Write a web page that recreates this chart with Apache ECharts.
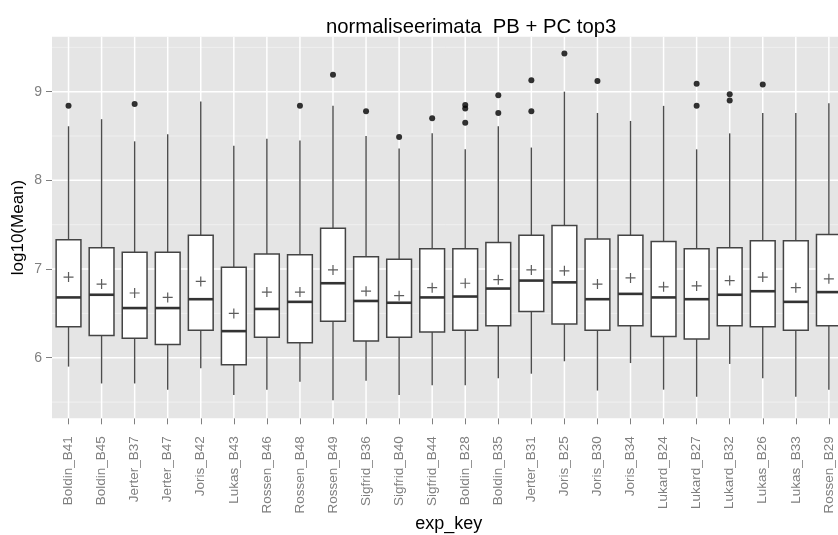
<!DOCTYPE html>
<html>
<head>
<meta charset="utf-8">
<script src="https://cdn.jsdelivr.net/npm/echarts@6/dist/echarts.min.js"></script>
<style>html,body{margin:0;padding:0;background:#fff;}#c{width:838px;height:535px;}</style>
</head>
<body>
<div id="c"></div>
<script>
const categories = ["Boldin_B41","Boldin_B45","Jerter_B37","Jerter_B47","Joris_B42","Lukas_B43","Rossen_B46","Rossen_B48","Rossen_B49","Sigfrid_B36","Sigfrid_B40","Sigfrid_B44","Boldin_B28","Boldin_B35","Jerter_B31","Joris_B25","Joris_B30","Joris_B34","Lukard_B24","Lukard_B27","Lukard_B32","Lukas_B26","Lukas_B33","Rossen_B29"];
const whiskerLow  = [5.90,5.71,5.71,5.64,5.88,5.58,5.64,5.73,5.52,5.74,5.58,5.69,5.69,5.77,5.82,5.96,5.63,5.94,5.64,5.56,5.93,5.77,5.56,5.64];
const q1          = [6.35,6.25,6.22,6.15,6.31,5.92,6.23,6.17,6.41,6.19,6.23,6.29,6.31,6.36,6.52,6.38,6.31,6.36,6.24,6.21,6.36,6.35,6.31,6.36];
const median      = [6.68,6.71,6.56,6.56,6.66,6.30,6.55,6.63,6.84,6.64,6.62,6.68,6.69,6.78,6.87,6.85,6.66,6.72,6.68,6.66,6.71,6.75,6.63,6.74];
const q3          = [7.33,7.24,7.19,7.19,7.38,7.02,7.17,7.16,7.46,7.14,7.11,7.23,7.23,7.30,7.38,7.49,7.34,7.38,7.31,7.23,7.24,7.32,7.32,7.39];
const whiskerHigh = [8.61,8.69,8.44,8.52,8.89,8.39,8.47,8.45,8.84,8.50,8.36,8.53,8.35,8.61,8.37,9.00,8.76,8.67,8.84,8.35,8.53,8.76,8.76,8.87];
const means       = [6.91,6.83,6.73,6.68,6.86,6.50,6.74,6.74,6.99,6.75,6.70,6.79,6.84,6.88,6.99,6.98,6.83,6.90,6.80,6.81,6.87,6.91,6.79,6.89];
const outliers = [
  ["Boldin_B41",8.84],["Jerter_B37",8.86],["Rossen_B48",8.84],["Rossen_B49",9.19],
  ["Sigfrid_B36",8.78],["Sigfrid_B40",8.49],["Sigfrid_B44",8.70],
  ["Boldin_B28",8.85],["Boldin_B28",8.81],["Boldin_B28",8.65],
  ["Boldin_B35",8.96],["Boldin_B35",8.76],["Jerter_B31",9.13],["Jerter_B31",8.78],
  ["Joris_B25",9.43],["Joris_B30",9.12],["Lukard_B27",9.09],["Lukard_B27",8.84],
  ["Lukard_B32",8.97],["Lukard_B32",8.90],["Lukas_B26",9.08]
];
const yTicks = [6,7,8,9];
const yMinorTicks = [5.5,6.5,7.5,8.5,9.5];
const yMin = 5.317, yMax = 9.62;

const FONT = '"Liberation Sans", Arial, sans-serif';
const chart = echarts.init(document.getElementById('c'));

const boxData = categories.map((c,i)=>[i, whiskerLow[i], q1[i], median[i], q3[i], whiskerHigh[i]]);
const meanData = categories.map((c,i)=>[i, means[i]]);
const outData = outliers.map(o=>[categories.indexOf(o[0]), o[1]]);
// horizontal grid: [dummy category index, value, isMajor]
const hGridData = yMinorTicks.map(v=>[0, v, 0]).concat(yTicks.map(v=>[0, v, 1]));
const vGridData = categories.map((c,i)=>[i, yMin]);

chart.setOption({
  animation:false,
  backgroundColor:'#ffffff',
  title:{
    text:'normaliseerimata  PB + PC top3',
    left:321, top:12,
    textStyle:{fontFamily:FONT, fontSize:20.3, fontWeight:'normal', color:'#000'}
  },
  grid:{left:52, top:36.7, width:793.4, height:381.6, show:true, backgroundColor:'#e5e5e5', borderWidth:0,
        containLabel:false, outerBoundsMode:'none'},
  xAxis:{
    type:'category', data:categories, boundaryGap:true,
    name:'exp_key', nameLocation:'middle', nameGap:97, nameMoveOverlap:false,
    nameTextStyle:{fontFamily:FONT, fontSize:18, color:'#000'},
    axisLine:{show:false},
    axisTick:{show:true, alignWithLabel:true, length:6, lineStyle:{color:'#7f7f7f', width:1}},
    axisLabel:{rotate:90, interval:0, margin:18, fontFamily:FONT, fontSize:13.5, color:'#7f7f7f'},
    splitLine:{show:false}
  },
  yAxis:{
    type:'value', min:yMin, max:yMax,
    name:'log10(Mean)', nameLocation:'middle', nameGap:25, nameMoveOverlap:false,
    nameTextStyle:{fontFamily:FONT, fontSize:17, color:'#000'},
    axisLine:{show:false},
    axisTick:{show:true, length:6, customValues:yTicks, lineStyle:{color:'#7f7f7f', width:1}},
    axisLabel:{customValues:yTicks, margin:10, fontFamily:FONT, fontSize:14, color:'#7f7f7f'},
    splitLine:{show:false}
  },
  series:[
    {
      type:'custom', z:1, silent:true, data:hGridData, clip:false,
      encode:{x:0, y:1},
      renderItem:function(params, api){
        const cs = params.coordSys;
        const y = api.coord([0, api.value(1)])[1];
        const major = api.value(2) === 1;
        return {type:'line', shape:{x1:cs.x, y1:y, x2:cs.x+cs.width, y2:y},
          style:{stroke: major ? '#ffffff' : '#f2f2f2', lineWidth: major ? 1.5 : 0.8}};
      }
    },
    {
      type:'custom', z:1, silent:true, data:vGridData, clip:false,
      encode:{x:0, y:1},
      renderItem:function(params, api){
        const cs = params.coordSys;
        const x = api.coord([api.value(0), api.value(1)])[0];
        return {type:'line', shape:{x1:x, y1:cs.y, x2:x, y2:cs.y+cs.height},
          style:{stroke:'#ffffff', lineWidth:1.5}};
      }
    },
    {
      type:'custom', z:3,
      data:boxData,
      encode:{x:0, y:[1,2,3,4,5]},
      renderItem:function(params, api){
        const x = api.value(0);
        const pLow = api.coord([x, api.value(1)]);
        const pQ1 = api.coord([x, api.value(2)]);
        const pMed = api.coord([x, api.value(3)]);
        const pQ3 = api.coord([x, api.value(4)]);
        const pHigh = api.coord([x, api.value(5)]);
        const w = api.size([1,0])[0]*0.75;
        const cx = pMed[0];
        return {type:'group', children:[
          {type:'line', shape:{x1:cx, y1:pHigh[1], x2:cx, y2:pQ3[1]}, style:{stroke:'#4d4d4d', lineWidth:1.4}},
          {type:'line', shape:{x1:cx, y1:pQ1[1], x2:cx, y2:pLow[1]}, style:{stroke:'#4d4d4d', lineWidth:1.4}},
          {type:'rect', shape:{x:cx-w/2, y:pQ3[1], width:w, height:pQ1[1]-pQ3[1]}, style:{fill:'#ffffff', stroke:'#444444', lineWidth:1.5}},
          {type:'line', shape:{x1:cx-w/2, y1:pMed[1], x2:cx+w/2, y2:pMed[1]}, style:{stroke:'#333333', lineWidth:2.6}}
        ]};
      }
    },
    {
      type:'scatter', z:4, data:meanData,
      symbol:'path://M4.4,0H5.6V10H4.4Z M0,4.4H10V5.6H0Z', symbolSize:10,
      itemStyle:{color:'#333333'}
    },
    {
      type:'scatter', z:4, data:outData, symbol:'circle', symbolSize:6,
      itemStyle:{color:'#000000'}
    }
  ]
});
</script>
</body>
</html>
